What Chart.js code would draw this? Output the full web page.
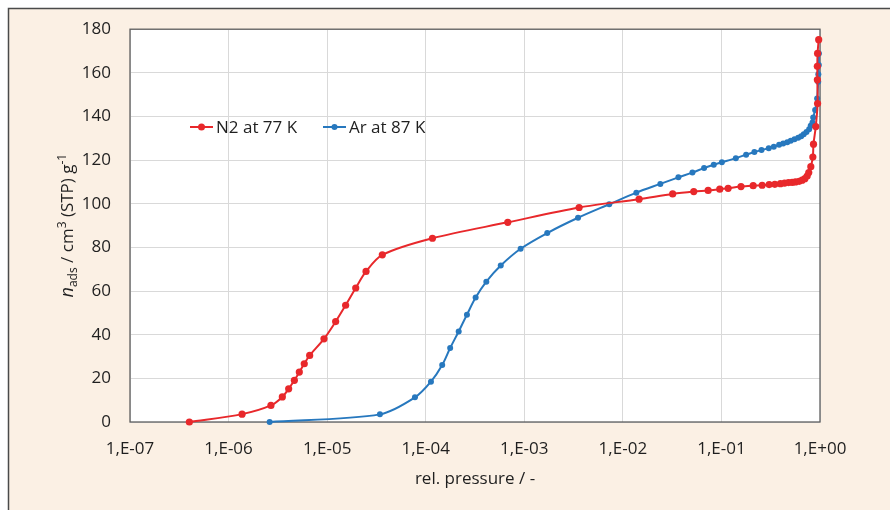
<!DOCTYPE html>
<html><head><meta charset="utf-8">
<script src="https://cdn.jsdelivr.net/npm/chart.js@4/dist/chart.umd.min.js"></script>
<style>html,body{margin:0;padding:0;background:#fff}#wrap{width:890px;height:510px}</style>
</head><body><div id="wrap"><canvas id="c" width="890" height="510"></canvas></div>
<script>
const X_TICKS = [1e-7,1e-6,1e-5,1e-4,1e-3,1e-2,1e-1,1];
const Y_TICKS = [0,20,40,60,80,100,120,140,160,180];
const SERIES_NAMES = ['N2 at 77 K','Ar at 87 K'];
const N2_P = [4.0e-7,1.37e-6,2.69e-6,3.51e-6,4.07e-6,4.65e-6,5.22e-6,5.86e-6,6.65e-6,9.29e-6,1.22e-5,1.54e-5,1.95e-5,2.48e-5,3.63e-5,1.17e-4,6.8e-4,3.6e-3,1.46e-2,3.2e-2,0.0524,0.0733,0.0962,0.117,0.158,0.210,0.259,0.305,0.348,0.397,0.437,0.479,0.522,0.564,0.615,0.659,0.702,0.741,0.769,0.807,0.846,0.859,0.906,0.945,0.94,0.94,0.945,0.97];
const N2_V = [0,3.6,7.6,11.5,15.2,19.1,22.9,26.7,30.5,38.1,46.0,53.5,61.4,69.0,76.6,84.2,91.5,98.3,102.1,104.5,105.6,106.1,106.7,107.1,107.9,108.3,108.5,108.8,108.9,109.2,109.5,109.7,109.8,110.0,110.3,110.8,111.5,112.7,114.3,117.0,121.4,127.3,135.4,145.9,156.8,163.0,168.9,175.2];
const AR_P = [2.61e-6,3.43e-5,7.78e-5,1.13e-4,1.47e-4,1.77e-4,2.16e-4,2.62e-4,3.21e-4,4.12e-4,5.77e-4,9.18e-4,1.71e-3,3.51e-3,7.28e-3,1.37e-2,2.40e-2,0.0366,0.0508,0.0667,0.0836,0.101,0.140,0.178,0.216,0.255,0.302,0.340,0.385,0.423,0.465,0.505,0.551,0.601,0.644,0.684,0.729,0.776,0.805,0.839,0.853,0.893,0.935,0.959,0.962,0.973,0.975];
const AR_V = [0,3.5,11.3,18.5,26.1,33.9,41.5,49.2,57.0,64.3,71.7,79.4,86.6,93.6,99.8,105.1,109.1,112.1,114.3,116.4,117.9,119.0,120.9,122.5,123.7,124.6,125.5,126.1,127.0,127.6,128.2,128.9,129.6,130.2,131.0,131.9,132.9,134.1,135.7,137.2,139.5,143.0,148.3,155.9,159.4,163.6,168.9];

const RED = '#E8282B', BLUE = '#2778BE';
const FONT = "'Open Sans', 'Liberation Sans', sans-serif";
const TXT = '#1f1f1f';

function pts(px, py){ return px.map((p,i)=>({x:p,y:py[i]})); }
function fmtE(v){
  const e = Math.round(Math.log10(v));
  const s = e < 0 ? '-' : '+';
  const a = Math.abs(e);
  return '1,E' + s + (a < 10 ? '0' : '') + a;
}

const decor = {
  id: 'decor',
  beforeDraw(chart){
    const ctx = chart.ctx, a = chart.chartArea;
    ctx.save();
    ctx.fillStyle = '#ffffff';
    ctx.fillRect(0,0,chart.width,chart.height);
    ctx.fillStyle = '#FBF0E4';
    ctx.fillRect(8,8,chart.width-8,chart.height-8);
    ctx.strokeStyle = '#4a4a4a';
    ctx.lineWidth = 1.5;
    ctx.beginPath();
    ctx.moveTo(8.5,chart.height); ctx.lineTo(8.5,8.5); ctx.lineTo(chart.width,8.5);
    ctx.stroke();
    ctx.fillStyle = '#ffffff';
    ctx.fillRect(a.left,a.top,a.right-a.left,a.bottom-a.top);
    ctx.restore();
  },
  beforeDatasetsDraw(chart){
    const ctx = chart.ctx, a = chart.chartArea;
    ctx.save();
    ctx.strokeStyle = '#5f5f5f';
    ctx.lineWidth = 1.3;
    ctx.strokeRect(a.left, a.top, a.right-a.left, a.bottom-a.top);
    ctx.restore();
  },
  afterDraw(chart){
    const ctx = chart.ctx, a = chart.chartArea;
    ctx.save();
    ctx.fillStyle = TXT;
    // x title
    ctx.font = '17px ' + FONT;
    ctx.textAlign = 'center';
    ctx.textBaseline = 'middle';
    ctx.fillText('rel. pressure / -', (a.left+a.right)/2, 479);
    // y title (rich text)
    const segs = [
      {t:'n', f:'italic 18px '+FONT, dy:0},
      {t:'ads', f:'12px '+FONT, dy:4},
      {t:' / cm', f:'17px '+FONT, dy:0},
      {t:'3', f:'12px '+FONT, dy:-7},
      {t:' (STP) g', f:'17px '+FONT, dy:0},
      {t:'-1', f:'12px '+FONT, dy:-7}
    ];
    let total = 0;
    segs.forEach(s=>{ ctx.font = s.f; s.w = ctx.measureText(s.t).width; total += s.w; });
    ctx.translate(73, (a.top+a.bottom)/2);
    ctx.rotate(-Math.PI/2);
    ctx.textAlign = 'left';
    ctx.textBaseline = 'alphabetic';
    let x = -total/2;
    segs.forEach(s=>{ ctx.font = s.f; ctx.fillText(s.t, x, s.dy); x += s.w; });
    ctx.restore();
    // legend
    ctx.save();
    const ly = 127;
    const items = [{x:190, c:RED, r:3.5, name:chart.data.datasets[0].label},
                   {x:323, c:BLUE, r:3, name:chart.data.datasets[1].label}];
    items.forEach(it=>{
      ctx.strokeStyle = it.c; ctx.lineWidth = 2;
      ctx.beginPath(); ctx.moveTo(it.x, ly); ctx.lineTo(it.x+23, ly); ctx.stroke();
      ctx.fillStyle = it.c;
      ctx.beginPath(); ctx.arc(it.x+11.5, ly, it.r, 0, Math.PI*2); ctx.fill();
      ctx.fillStyle = TXT; ctx.font = '17px ' + FONT;
      ctx.textAlign = 'left'; ctx.textBaseline = 'middle';
      ctx.fillText(it.name, it.x+26, ly+1);
    });
    ctx.restore();
  }
};

new Chart(document.getElementById('c'), {
  type: 'scatter',
  data: {
    datasets: [
      {label: SERIES_NAMES[0], data: pts(N2_P,N2_V), showLine:true, borderColor:RED, backgroundColor:RED,
       borderWidth:2, pointRadius:3.6, pointHoverRadius:3.6, pointBorderWidth:0, tension:0.3, clip:false},
      {label: SERIES_NAMES[1], data: pts(AR_P,AR_V), showLine:true, borderColor:BLUE, backgroundColor:BLUE,
       borderWidth:2, pointRadius:3, pointHoverRadius:3, pointBorderWidth:0, tension:0.3, clip:false}
    ]
  },
  options: {
    responsive:false, animation:false, devicePixelRatio:1,
    layout:{padding:{left:0, right:70, top:27, bottom:0}},
    plugins:{legend:{display:false}, tooltip:{enabled:false}},
    events: [],
    scales:{
      x:{type:'logarithmic', min:1e-7, max:1,
         afterBuildTicks(s){ s.ticks = X_TICKS.map(v=>({value:v})); },
         afterFit(s){ s.height = 88; },
         grid:{color:'#d9d9d9', lineWidth:1, drawTicks:false},
         border:{display:false},
         ticks:{padding:17, color:TXT, font:{family:FONT, size:17}, maxRotation:0, autoSkip:false,
                callback:(v)=>fmtE(v)}
      },
      y:{type:'linear', min:0, max:180,
         afterBuildTicks(s){ s.ticks = Y_TICKS.map(v=>({value:v})); },
         afterFit(s){ s.width = 130; },
         grid:{color:'#d9d9d9', lineWidth:1, drawTicks:false},
         border:{display:false},
         ticks:{padding:19, color:TXT, font:{family:FONT, size:17}}
      }
    }
  },
  plugins:[decor]
});
</script>
</body></html>
